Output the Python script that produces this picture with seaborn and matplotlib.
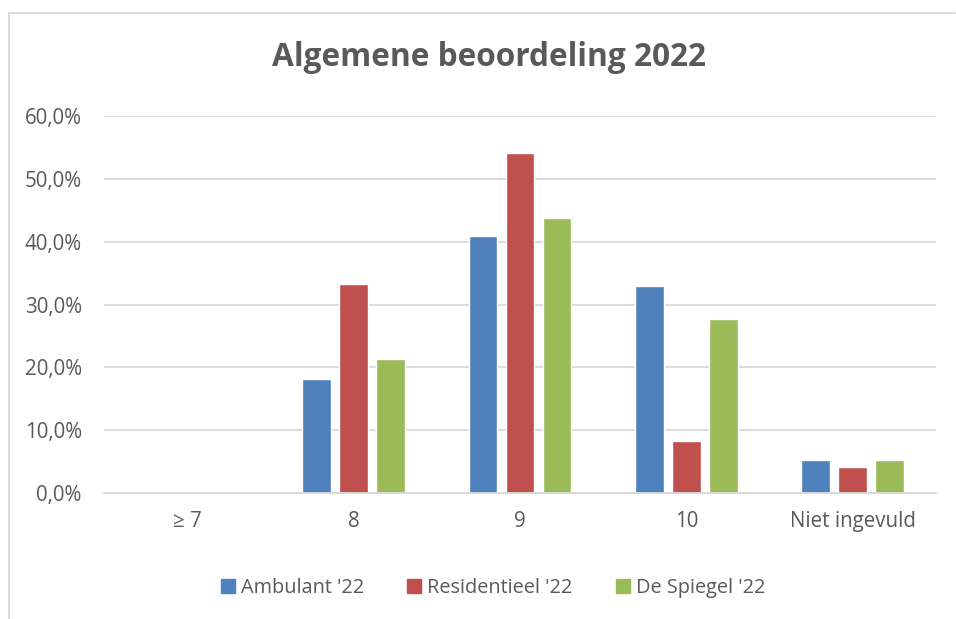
import matplotlib
matplotlib.use("Agg")
import matplotlib.pyplot as plt
from matplotlib.lines import Line2D
from matplotlib.ticker import FuncFormatter
import pandas as pd
import seaborn as sns

# data
categories = ["\u2265 7", "8", "9", "10", "Niet ingevuld"]
groups = ["Ambulant '22", "Residentieel '22", "De Spiegel '22"]
ambulant = [0.0, 18.2, 40.9, 33.0, 5.3]
residentieel = [0.0, 33.3, 54.1, 8.3, 4.1]
spiegel = [0.0, 21.3, 43.8, 27.7, 5.3]
colors = ["#4F81BD", "#C0504D", "#9BBB59"]

rows = []
for grp, vals in zip(groups, [ambulant, residentieel, spiegel]):
    for cat, v in zip(categories, vals):
        rows.append({"cat": cat, "groep": grp, "pct": v / 100})
df = pd.DataFrame(rows)

sns.set_style("white")
plt.rcParams["font.family"] = ["Open Sans", "DejaVu Sans"]
text_col = "#595959"
grid_col = "#D9D9D9"

fig = plt.figure(figsize=(9.56, 6.19), dpi=100)
ax = fig.add_axes([104 / 956, 1 - 493 / 619, 832 / 956, 377 / 619])

sns.barplot(data=df, x="cat", y="pct", hue="groep", order=categories,
            hue_order=groups, palette=colors, width=0.667, gap=0.22,
            saturation=1, ax=ax, legend=False)

ax.set_ylim(0, 0.6)
ax.set_xlim(-0.5, 4.5)
ax.set_yticks([i / 10 for i in range(7)])
ax.yaxis.set_major_formatter(FuncFormatter(lambda v, p: f"{v*100:.1f}%".replace(".", ",")))
ax.grid(axis="y", color=grid_col, linewidth=1.3)
ax.set_axisbelow(True)
for s in ["left", "right", "top"]:
    ax.spines[s].set_visible(False)
ax.spines["bottom"].set_color(grid_col)
ax.spines["bottom"].set_linewidth(1.3)
ax.tick_params(axis="both", length=0, labelsize=14.8, labelcolor=text_col)
ax.tick_params(axis="x", pad=13)
ax.tick_params(axis="y", pad=16)
ax.set_xlabel("")
ax.set_ylabel("")

fig.text(489 / 956, 1 - 57 / 619, "Algemene beoordeling 2022", ha="center", va="center",
         fontsize=22.8, fontweight="bold", color=text_col)

handles = [plt.Rectangle((0, 0), 1, 1, color=c) for c in colors]
fig.legend(handles, groups, loc="center", bbox_to_anchor=(493 / 956, 1 - 588 / 619),
           ncol=3, frameon=False, fontsize=14.3, handlelength=0.7, handleheight=0.7,
           handletextpad=0.3, columnspacing=2.2, labelcolor=text_col)

# chart frame
fig.add_artist(Line2D([8.5 / 956, 8.5 / 956], [0, 1 - 13 / 619], transform=fig.transFigure,
                      color=grid_col, linewidth=1.3))
fig.add_artist(Line2D([8.5 / 956, 955 / 956], [1 - 13 / 619, 1 - 13 / 619], transform=fig.transFigure,
                      color=grid_col, linewidth=1.3))

fig.savefig("out.png", dpi=100)
